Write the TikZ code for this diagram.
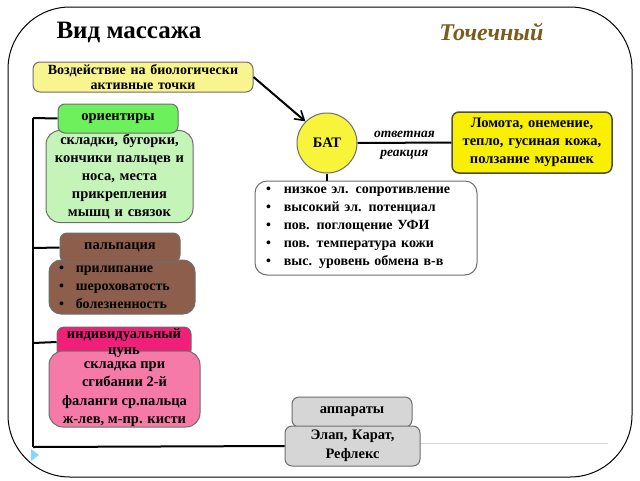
\documentclass[tikz,border=0pt]{standalone}
\usepackage{fontspec}
\setmainfont{Liberation Serif}
\usetikzlibrary{arrows.meta,shapes.geometric}
\definecolor{ylight}{HTML}{F8F490}
\definecolor{ybright}{HTML}{F8F000}
\definecolor{ycirc}{HTML}{F8F43A}
\definecolor{gtab}{HTML}{6CF05C}
\definecolor{gbox}{HTML}{C4F4B8}
\definecolor{brn}{HTML}{8E5E4C}
\definecolor{ptab}{HTML}{F0207A}
\definecolor{pbox}{HTML}{F57AA8}
\definecolor{gry}{HTML}{D6D6D6}
\definecolor{olive}{HTML}{7A5C1E}
\definecolor{bord}{HTML}{6E6E6E}
\tikzset{
  box/.style={draw=bord, line width=1pt, rounded corners=7pt, align=center, inner sep=1pt,
    font=\bfseries\fontsize{14.5}{18}\selectfont},
  conn/.style={line width=2pt, black},
}
\begin{document}
\begin{tikzpicture}[x=1pt,y=-1pt]
\useasboundingbox (0,0) rectangle (640,480);
\fill[white] (0,0) rectangle (640,480);
% frame
\draw[line width=1pt, rounded corners=62pt] (8,7) rectangle (632,477);
\draw[gry, line width=1pt] (420,443) -- (608,443);
\fill[blue!30!cyan!50] (31,449) -- (39,455) -- (31,461) -- cycle;
% titles
\node[font=\bfseries\fontsize{25}{28}\selectfont, anchor=west] (title) at (53,32) {Вид массажа};
\node[font=\bfseries\itshape\fontsize{24}{26}\selectfont, text=olive, anchor=east] (type) at (547,32) {Точечный};
% left trunk
\coordinate (t1) at (33,118);
\coordinate (t4) at (33,447);
\draw[conn] (t1) -- (t4);
% yellow top box
\node[box, fill=ylight, minimum width=220pt, minimum height=30pt, text width=218pt,
  font=\bfseries\fontsize{14}{15}\selectfont] (vozd) at (143,77) {Воздействие на биологически\\активные точки};
% BAT
\node[circle, draw=bord, line width=1pt, fill=ycirc, minimum size=60pt, font=\bfseries\fontsize{14.5}{16}\selectfont] (bat) at (327,143) {БАТ};
\draw[line width=2pt, -{Straight Barb[length=9pt,width=11pt,line width=1.6pt]}] (vozd.east) -- (bat.north west);
% response box
\node[box, fill=ybright, draw=black!70, line width=1.5pt, minimum width=160pt, minimum height=61pt, text width=158pt] (lom) at (532,142.5) {Ломота, онемение,\\тепло, гусиная кожа,\\ползание мурашек};
\draw[conn] (bat.east) -- (lom.west) node[midway, above=1pt, font=\bfseries\itshape\fontsize{13.5}{14}\selectfont] {ответная}
  node[midway, below=3pt, font=\bfseries\itshape\fontsize{13.5}{14}\selectfont] {реакция};
% properties box
\node[box, fill=white, rounded corners=12pt, minimum width=222pt, minimum height=94pt, text width=218pt, align=left,
  font=\bfseries\fontsize{14}{18}\selectfont] (prop) at (366,228) {%
  \hspace*{9pt}\textbullet\hspace{13pt}низкое эл. сопротивление\\
  \hspace*{9pt}\textbullet\hspace{13pt}высокий эл. потенциал\\
  \hspace*{9pt}\textbullet\hspace{13pt}пов. поглощение УФИ\\
  \hspace*{9pt}\textbullet\hspace{13pt}пов. температура кожи\\
  \hspace*{9pt}\textbullet\hspace{13pt}выс. уровень обмена в-в};
\draw[conn] (bat.south) -- (prop.north -| bat.south);
% green
\node[box, fill=gbox, rounded corners=14pt, minimum width=147pt, minimum height=92pt, text width=145pt] (gb) at (119.5,176.5) {складки, бугорки,\\кончики пальцев и\\носа, места\\прикрепления\\мышц и связок};
\node[box, fill=gtab, minimum width=120pt, minimum height=29pt, text width=118pt] (gt) at (118,118.5) {ориентиры};
\draw[conn] (t1) -- (gt.west);
% brown
\node[box, fill=brn, rounded corners=12pt, minimum width=146pt, minimum height=54pt, text width=144pt, align=left,
  font=\bfseries\fontsize{14}{18}\selectfont] (bb) at (122,287) {%
  \hspace*{9pt}\textbullet\hspace{12pt}прилипание\\
  \hspace*{9pt}\textbullet\hspace{12pt}шероховатость\\
  \hspace*{9pt}\textbullet\hspace{12pt}болезненность};
\node[box, fill=brn, minimum width=120pt, minimum height=29pt, text width=118pt] (bt) at (120,247.5) {пальпация};
\coordinate (t2) at (33,248);
\draw[conn] (t2) -- (bt.west);
% pink
\node[box, fill=ptab, minimum width=134pt, minimum height=30pt, text width=132pt] (pt) at (124,342) {};
\node[box, fill=pbox, rounded corners=14pt, minimum width=151pt, minimum height=76pt, text width=149pt] (pb) at (124.5,389) {};
\node[align=center, font=\bfseries\fontsize{14.5}{18.5}\selectfont] (pbt) at (124.5,394) {складка при\\сгибании 2-й\\фаланги ср.пальца\\ж-лев, м-пр. кисти};
\node[align=center, font=\bfseries\fontsize{14.5}{16}\selectfont] (ptt) at (124,343) {индивидуальный\\цунь};
\coordinate (t3) at (33,343);
\draw[conn] (t3) -- (pt.west);
% gray
\node[box, fill=gry, minimum width=120pt, minimum height=30pt, text width=118pt] (at) at (352,412) {аппараты};
\node[box, fill=gry, minimum width=135pt, minimum height=40pt, text width=133pt, font=\bfseries\fontsize{14.5}{19}\selectfont] (ab) at (352.5,446) {Элап, Карат,\\Рефлекс};
\draw[conn] (t4) -- (ab.west);
\end{tikzpicture}
\end{document}
